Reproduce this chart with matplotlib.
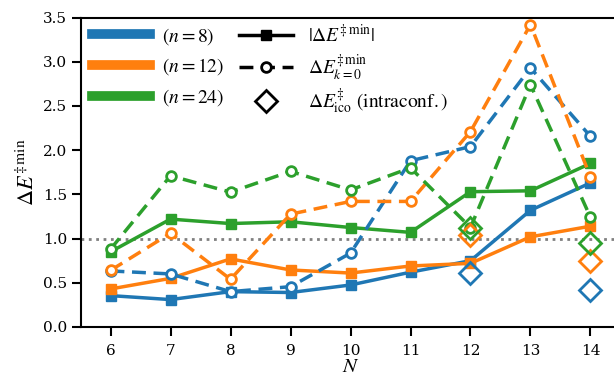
import matplotlib
matplotlib.use("Agg")
import matplotlib.pyplot as plt
from matplotlib.lines import Line2D

plt.rcParams['font.family'] = ['DejaVu Serif']
plt.rcParams['mathtext.fontset'] = 'stix'

N = [6, 7, 8, 9, 10, 11, 12, 13, 14]
abs_min = {
    8:  [0.355, 0.31, 0.40, 0.39, 0.475, 0.62, 0.75, 1.32, 1.63],
    12: [0.43, 0.55, 0.77, 0.645, 0.61, 0.69, 0.72, 1.02, 1.14],
    24: [0.85, 1.22, 1.17, 1.19, 1.125, 1.07, 1.53, 1.54, 1.85],
}
k0_min = {
    8:  [0.634, 0.60, 0.40, 0.456, 0.835, 1.88, 2.04, 2.93, 2.155],
    12: [0.64, 1.06, 0.54, 1.276, 1.42, 1.42, 2.21, 3.42, 1.695],
    24: [0.88, 1.71, 1.525, 1.76, 1.55, 1.80, 1.125, 2.74, 1.24],
}
N_ico = [12, 14]
ico = {
    8:  [0.61, 0.42],
    12: [1.04, 0.75],
    24: [1.12, 0.955],
}
colors = {8: '#1f77b4', 12: '#ff7f0e', 24: '#2ca02c'}
labels = {8: r'$(n=8)$', 12: r'$(n=12)$', 24: r'$(n=24)$'}

fig = plt.figure(figsize=(6.14, 3.81), dpi=100)
ax = fig.add_axes([80.5/614, 54/381, 540/614, 309.5/381])

ax.axhline(1.0, color='gray', ls=':', lw=2, zorder=1)

for n in [8, 12, 24]:
    c = colors[n]
    ax.plot(N, abs_min[n], '-', color=c, lw=2.5, marker='s', ms=7, zorder=3)
for n in [8, 12, 24]:
    c = colors[n]
    ax.plot(N, k0_min[n], '--', color=c, lw=2.5, marker='o', ms=7,
            mfc='white', mec=c, mew=2, dashes=(4, 2.2), zorder=4)
for n in [8, 12, 24]:
    c = colors[n]
    ax.plot(N_ico, ico[n], 'D', color=c, ms=11, mfc='none', mec=c, mew=2, zorder=5)

ax.set_xlim(5.5, 14.5)
ax.set_ylim(0, 3.5)
ax.set_xticks(N)
ax.set_yticks([0.0, 0.5, 1.0, 1.5, 2.0, 2.5, 3.0, 3.5])
ax.set_yticklabels(['0.0', '0.5', '1.0', '1.5', '2.0', '2.5', '3.0', '3.5'])
ax.tick_params(labelsize=11, width=1.5, length=6.5)
ax.tick_params(axis='x', pad=6)
ax.tick_params(axis='y', pad=3)
for s in ax.spines.values():
    s.set_linewidth(1.5)
ax.set_xlabel(r'$N$', fontsize=15, labelpad=-1)
ax.set_ylabel(r'$\Delta E^{\ddagger\,\mathrm{min}}$', fontsize=16, labelpad=3)

h1 = [Line2D([], [], color=colors[n], lw=7) for n in [8, 12, 24]]
leg1 = ax.legend(h1, [labels[n] for n in [8, 12, 24]], loc='upper left',
                 bbox_to_anchor=(-0.011, 1.03), frameon=False, fontsize=14,
                 handlelength=3.0, handletextpad=0.6, labelspacing=0.5)
ax.add_artist(leg1)

h2 = [Line2D([], [], color='k', lw=2.5, marker='s', ms=7),
      Line2D([], [], color='k', lw=2.5, ls='--', dashes=(4, 2.2), marker='o', ms=7, mfc='white', mew=2),
      Line2D([], [], color='k', lw=0, marker='D', ms=11, mfc='none', mew=2)]
l2 = [r'$|\Delta E^{\ddagger\,\mathrm{min}}|$',
      r'$\Delta E^{\ddagger\,\mathrm{min}}_{k=0}$',
      r'$\Delta E^{\ddagger}_{\mathrm{ico}}\ \mathrm{(intraconf.)}$']
ax.legend(h2, l2, loc='upper left', bbox_to_anchor=(0.262, 1.035), frameon=False,
          fontsize=14, handlelength=2.75, handletextpad=0.75, labelspacing=0.3)

fig.savefig('out.png', dpi=100)
